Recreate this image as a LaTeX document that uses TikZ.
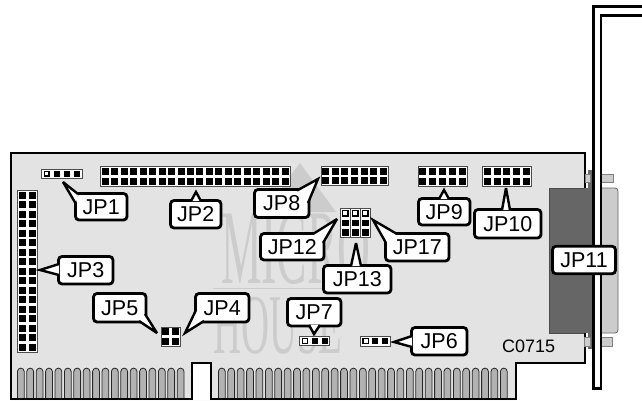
\documentclass[tikz,border=0pt]{standalone}
\usepackage{graphicx}
\usepackage{fontspec}
\setmainfont{Liberation Sans}
\newfontfamily\wmfont{Liberation Serif}
\definecolor{boardgray}{gray}{0.89}
\definecolor{wmgray}{gray}{0.80}
\definecolor{conndark}{gray}{0.40}
\definecolor{connlight}{gray}{0.80}
\definecolor{fingergray}{gray}{0.70}
\tikzset{
  outline/.style={draw=black,line width=2.6,line join=miter},
  labelbox/.style={draw=black,fill=white,line width=2.8,rounded corners=3.5,inner sep=0,font=\fontsize{21.5}{21.5}\selectfont},
  pinbox/.style={draw=black!70,fill=white,line width=0.8},
  pinfill/.style={fill=black},
  pinopen/.style={draw=black,fill=white,line width=0.9},
  finger/.style={draw=black!85,fill=fingergray,line width=0.8},
  wm/.style={text=wmgray,inner sep=0,anchor=base west}
}
% header x1 y1 x2 y2 cols rows pinsize
\newcommand{\header}[7]{%
  \draw[pinbox] (#1,#2) rectangle (#3,#4);
  \pgfmathsetmacro{\px}{(#3-#1)/#5}\pgfmathsetmacro{\py}{(#4-#2)/#6}
  \foreach \c in {1,...,#5}{\foreach \r in {1,...,#6}{
    \pgfmathsetmacro{\cx}{#1+(\c-0.5)*\px}\pgfmathsetmacro{\cy}{#2+(\r-0.5)*\py}
    \fill[pinfill] (\cx-#7/2,\cy-#7/2) rectangle (\cx+#7/2,\cy+#7/2);
  }}}
% open pin centre size
\newcommand{\openpin}[3]{\draw[pinopen] (#1-#3/2,#2-#3/2) rectangle (#1+#3/2,#2+#3/2);}
% callout name text x1 y1 x2 y2 base1 tip base2
\newcommand{\callout}[9]{%
  \node[labelbox,minimum width=#5-#3,minimum height=#6-#4] (#1) at ({(#3+#5)/2},{(#4+#6)/2}) {#2};
  \fill[white] #7 -- #8 -- #9 -- cycle;
  \draw[black,line width=2.4,line join=miter,miter limit=4] #7 -- #8 -- #9;
}
\begin{document}
\begin{tikzpicture}[x=1pt,y=-1pt]
\useasboundingbox (0,0) rectangle (642,400);
\fill[white] (0,0) rectangle (642,400);
% board
\fill[boardgray] (11,153) -- (585,153) -- (585,363) -- (516,363) -- (516,400) -- (11,400) -- cycle;
% watermark
\fill[wmgray] (264,212) -- (300,163) -- (336,212) -- cycle;
\node[wm] (wmicro) at (221,283) {\scalebox{0.43}[1]{\wmfont\fontsize{106}{106}\selectfont MICRO}};
\fill[wmgray] (213,287.5) rectangle (370,289);
\node[wm] (whouse) at (213,353) {\scalebox{0.457}[1]{\wmfont\fontsize{85}{85}\selectfont HOUSE}};
% fingers
\foreach \i in {0,...,17}{
  \pgfmathsetmacro{\fx}{17.4+9.4*\i}
  \draw[finger] (\fx,399) -- (\fx,371.5) arc[start angle=180,end angle=360,radius=3.4] -- (\fx+6.8,399);
}
\foreach \i in {0,...,30}{
  \pgfmathsetmacro{\fx}{218.4+9.4*\i}
  \draw[finger] (\fx,399) -- (\fx,371.5) arc[start angle=180,end angle=360,radius=3.4] -- (\fx+6.8,399);
}
% notch and outline
\fill[white] (192,363) rectangle (211,400);
\draw[outline] (585,188) -- (585,153) -- (11,153) -- (11,399) -- (192,399) -- (192,363) -- (211,363) -- (211,399) -- (516,399) -- (516,363) -- (585,363) -- (585,333);
% connector
\fill[conndark] (588,170) rectangle (594,349);
\draw[pinbox,draw=black!50,fill=connlight] (585,174) rectangle (590,182);
\draw[pinbox,draw=black!50,fill=connlight] (584,337) rectangle (590,346);
\draw[pinbox,draw=black!50,fill=connlight] (601,174) rectangle (613,182);
\draw[pinbox,draw=black!50,fill=connlight] (601,337) rectangle (612,346);
\draw[draw=black!60,fill=connlight,line width=0.8,rounded corners=3] (598,188) -- (618,188) -- (618,333) -- (598,333) -- cycle;
\fill[conndark] (549,188) rectangle (594,333);
\draw[black!70,line width=0.8] (549,333) -- (549,188) -- (584,188);
\draw[black!70,line width=0.8] (549,333) -- (584,333);
% bracket
\fill[white] (594.5,16) rectangle (600,388);
\draw[black,line width=2.6,line join=miter] (642,6.5) -- (593.5,6.5) -- (593.5,388.5) -- (601,388.5) -- (601,15.5) -- (642,15.5);
% headers
\header{41.5}{169}{82}{178}{4}{1}{6}
\openpin{46.5}{173.5}{4.5}
\header{100.5}{166.5}{290}{186}{20}{2}{7}
\header{321}{166.5}{388}{185.5}{7}{2}{7}
\header{418}{166.5}{467}{186}{5}{2}{7}
\header{482.5}{166.5}{531}{186}{5}{2}{7}
\header{17.5}{190.5}{37}{352}{2}{17}{7}
\header{161}{327}{180}{346}{2}{2}{7.2}
\header{299.5}{336}{329.5}{345}{3}{1}{6}
\openpin{304.5}{340.5}{5}
\header{360.5}{336.5}{390}{346}{3}{1}{6}
\openpin{365.5}{341}{5}
\header{340.5}{208.5}{350}{237}{1}{3}{6.5}
\header{350.5}{208.5}{360}{237}{1}{3}{6.5}
\header{360.5}{208.5}{370}{237}{1}{3}{6.5}
\openpin{345.2}{213.2}{5}
\openpin{355.2}{213.2}{5}
\openpin{365.2}{213.2}{5}
% callouts
\callout{jp1}{JP1}{75.5}{193.5}{127}{220}{(78,194)}{(63,182)}{(76,204)}
\callout{jp2}{JP2}{170.5}{200.5}{221}{228}{(191,201)}{(196,192)}{(201,201)}
\callout{jp8}{JP8}{254.5}{189.5}{309}{217.5}{(297,190.5)}{(318,179)}{(308,203)}
\callout{jp3}{JP3}{58.5}{256.5}{113}{284}{(59,264)}{(40,270)}{(59,275)}
\callout{jp5}{JP5}{93.5}{293.5}{146}{322}{(139,321)}{(157,333)}{(145,314)}
\callout{jp4}{JP4}{195.5}{293.5}{249}{322}{(196,310)}{(185,333)}{(204,321)}
\callout{jp7}{JP7}{287.5}{298.5}{341}{326}{(309,325)}{(314,334)}{(320,325)}
\callout{jp6}{JP6}{411.5}{327.5}{467}{355}{(412,336)}{(394,342)}{(412,347)}
\callout{jp9}{JP9}{418.5}{198.5}{470}{225}{(439,199)}{(444,190)}{(449,199)}
\callout{jp10}{JP10}{474.5}{209.5}{541}{238}{(502,210)}{(506,188)}{(510,210)}
\callout{jp12}{JP12}{260.5}{233.5}{324}{260}{(313,234)}{(337,219)}{(323,243)}
\callout{jp17}{JP17}{385.5}{233.5}{449}{261}{(386,243)}{(373,220)}{(397,234)}
\callout{jp13}{JP13}{323.5}{265.5}{391}{293}{(351,266)}{(356,243)}{(361,266)}
\node[labelbox,minimum width=63,minimum height=27.5] (jp11) at (584,260) {JP11};
\node[inner sep=0,font=\fontsize{18}{18}\selectfont,anchor=base west] (code) at (502,352.5) {C0715};
\end{tikzpicture}
\end{document}
